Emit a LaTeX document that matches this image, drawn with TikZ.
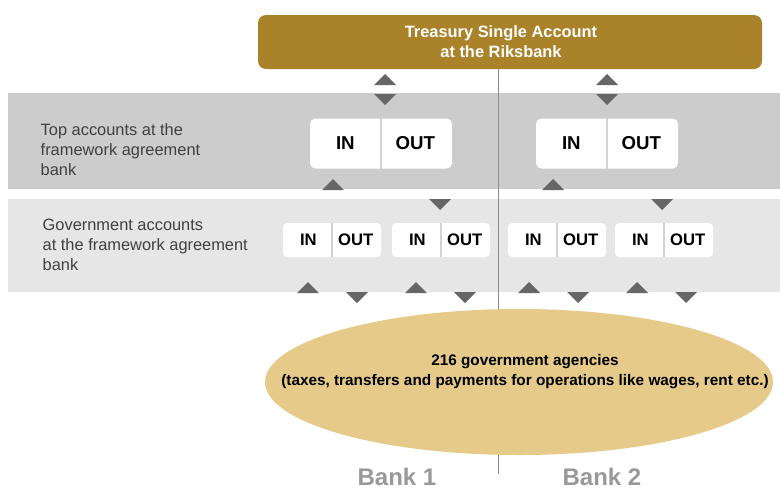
\documentclass[tikz,border=0pt]{standalone}
\usepackage{fontspec}
\setmainfont{Liberation Sans}
\usetikzlibrary{calc}

\definecolor{riksgold}{HTML}{A9822A}
\definecolor{agencygold}{HTML}{E5CA8A}
\definecolor{topgrey}{HTML}{CCCCCC}
\definecolor{govgrey}{HTML}{E6E6E6}
\definecolor{trigrey}{HTML}{666666}
\definecolor{splitgrey}{HTML}{D2D2D2}

\tikzset{
  tsabox/.style={fill=riksgold, rounded corners=6pt, minimum width=378pt, minimum height=40.5pt, inner sep=0pt},
  tsatext/.style={text=white, align=center, font=\bfseries\fontsize{12.3}{15}\selectfont},
  rowlabel/.style={anchor=west, align=left, text=black!75, font=\fontsize{12.3}{15}\selectfont},
  topacct/.style={fill=white, rounded corners=4pt, minimum width=106.5pt, minimum height=37.5pt, inner sep=0pt},
  govacct/.style={fill=white, rounded corners=3pt, minimum width=73.5pt, minimum height=25.5pt, inner sep=0pt},
  split/.style={draw=splitgrey, line width=1.2pt},
  toptxt/.style={font=\bfseries\fontsize{14}{14}\selectfont},
  govtxt/.style={font=\bfseries\fontsize{12.5}{12.5}\selectfont},
  banktxt/.style={text=black!40, font=\bfseries\fontsize{18}{18}\selectfont},
}

% flow markers, apex at (x,y)
\newcommand{\flowup}[2]{\fill[trigrey] (#1-11,#2+11) -- (#1,#2) -- (#1+11,#2+11) -- cycle;}
\newcommand{\flowdown}[2]{\fill[trigrey] (#1-11,#2) -- (#1,#2+11) -- (#1+11,#2) -- cycle;}

\begin{document}
\begin{tikzpicture}[x=0.75pt,y=-0.75pt]
    \useasboundingbox (0,0) rectangle (780,490);

    %bands
    \fill[topgrey] (8,93) rectangle (780,189);
    \fill[govgrey] (8,199) rectangle (780,292);

    \node[rowlabel] (toplabel) at (36,150) {Top accounts at the\\framework agreement\\bank};
    \node[rowlabel] (govlabel) at (38,245) {Government accounts\\at the framework agreement\\bank};

    %bank split
    \draw[black!45, line width=0.6pt] (498,69) -- (498,474);

    \node[tsabox] (tsa) at (510,42) {};
    \node[tsatext] (tsalabel) at (501,42) {Treasury Single Account\\at the Riksbank};

    %top accounts
    \foreach \nm/\cx in {top1/381, top2/607}
    {
        \node[topacct] (\nm) at (\cx,143.5) {};
        \draw[split] (\nm.north) -- (\nm.south);
        \node[toptxt] at ($(\nm.west)!.25!(\nm.east)$) {IN};
        \node[toptxt] at ($(\nm.west)!.74!(\nm.east)$) {OUT};
    }

    %government accounts
    \foreach \nm/\cx in {gov1/332, gov2/441, gov3/557, gov4/664}
    {
        \node[govacct] (\nm) at (\cx,240) {};
        \draw[split] (\nm.north) -- (\nm.south);
        \node[govtxt] at ($(\nm.west)!.26!(\nm.east)$) {IN};
        \node[govtxt] at ($(\nm.west)!.74!(\nm.east)$) {OUT};
    }

    %markers
    \flowup{385}{74}
    \flowdown{385}{94}
    \flowup{607}{74}
    \flowdown{607}{94}

    \flowup{333}{179}
    \flowup{553}{179}
    \flowdown{440}{199}
    \flowdown{662}{199}

    \foreach \x in {308,416,529,637}
        {\flowup{\x}{282}}
    \foreach \x in {357,465,578,686}
        {\flowdown{\x}{292}}

    %agencies
    \fill[agencygold] (519,382) ellipse (254 and 73);
    \node[align=center, font=\bfseries\fontsize{11.5}{15}\selectfont] (agencies) at (525,372)
        {216 government agencies\\(taxes, transfers and payments  for operations like wages, rent etc.)};

    \node[banktxt] (bank1) at (397,477) {Bank 1};
    \node[banktxt] (bank2) at (602,477) {Bank 2};
\end{tikzpicture}
\end{document}
